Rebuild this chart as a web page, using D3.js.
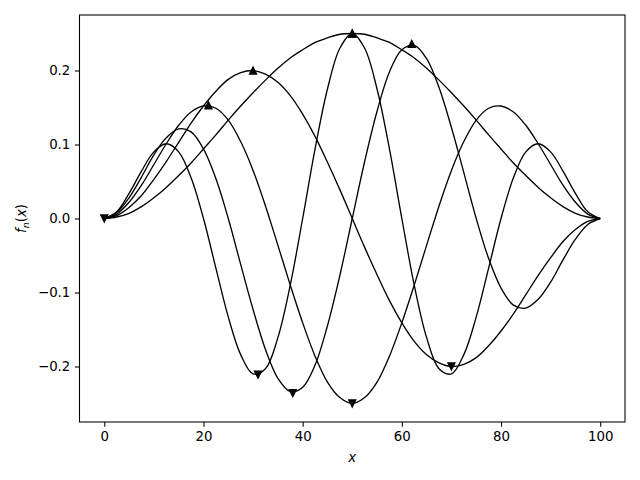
<!DOCTYPE html>
<html><head><meta charset="utf-8">
<script src="https://cdn.jsdelivr.net/npm/d3@7"></script>
<style>body{margin:0;background:#fff}svg{display:block}text{font-family:"DejaVu Sans",sans-serif}</style>
</head><body><svg id="c" width="640" height="480"></svg>
<script>
// x samples (0..100 step 2.5)
const xs = d3.range(0, 100.001, 2.5);
// series values
const f1Half = [0,.002,.007,.016,.028,.042,.058,.075,.094,.113,.133,.152,.170,.187,.203,.217,.228,.238,.244,.249,.250];
const f2 = [0,.004,.015,.031,.053,.077,.103,.129,.152,.172,.188,.197,.200,.195,.184,.166,.141,.111,.076,.039,0,
  -.039,-.076,-.111,-.141,-.166,-.184,-.195,-.200,-.197,-.188,-.172,-.152,-.129,-.103,-.077,-.053,-.031,-.015,-.004,0];
const f3Half = [0,.006,.022,.045,.073,.101,.126,.144,.152,.149,.133,.104,.065,.017,-.036,-.090,-.141,-.186,-.221,-.242,-.250];
const f4 = [0,.008,.028,.056,.086,.109,.121,.117,.094,.054,0,-.062,-.123,-.177,-.216,-.234,-.228,-.198,-.145,-.077,0,
  .077,.145,.198,.228,.234,.216,.177,.123,.062,0,-.054,-.094,-.117,-.121,-.109,-.086,-.056,-.028,-.008,0];
const f5Half = [0,.009,.034,.064,.090,.101,.090,.055,0,-.067,-.133,-.184,-.210,-.203,-.161,-.090,0,.094,.175,.230,.250];
const mirror = h => h.concat(h.slice(0, -1).reverse());
const seriesValues = [mirror(f1Half), f2, mirror(f3Half), f4, mirror(f5Half)];
// markers at maxima (up) and minima (down)
const maxX = [50, 30, 21, 62, 50], maxY = [.25, .2, .153, .236, .25];
const minX = [0, 70, 50, 38, 31], minY = [0, -.2, -.25, -.236, -.211];
const xTicks = [0, 20, 40, 60, 80, 100];
const yTicks = [-0.2, -0.1, 0.0, 0.1, 0.2];

const L = 79.5, R = 625, T = 15, B = 422;
const svg = d3.select("#c");
const x = d3.scaleLinear().domain([-5, 105]).range([L, R]);
const y = d3.scaleLinear().domain([-0.275, 0.275]).range([B, T]);

const g = svg.append("g");
svg.append("clipPath").attr("id", "cp").append("rect")
  .attr("x", L).attr("y", T).attr("width", R - L).attr("height", B - T);
const line = d3.line().x((d, i) => x(xs[i])).y(d => y(d)).curve(d3.curveCatmullRom.alpha(0.5));
seriesValues.forEach(v => {
  g.append("path").attr("d", line(v)).attr("fill", "none").attr("stroke", "#000")
    .attr("stroke-width", 1.33).attr("clip-path", "url(#cp)");
});
maxX.forEach((mx, i) => {
  g.append("path").attr("d", "M0,-3.6L3.6,3.6L-3.6,3.6Z")
    .attr("transform", `translate(${x(mx)},${y(maxY[i])})`).attr("fill", "#000")
    .attr("stroke", "#000").attr("stroke-width", 1.2).attr("stroke-linejoin", "miter");
});
minX.forEach((mx, i) => {
  g.append("path").attr("d", "M0,3.6L3.6,-3.6L-3.6,-3.6Z")
    .attr("transform", `translate(${x(mx)},${y(minY[i])})`).attr("fill", "#000")
    .attr("stroke", "#000").attr("stroke-width", 1.2).attr("stroke-linejoin", "miter");
});

const xa = svg.append("g").attr("transform", `translate(0,${B})`)
  .call(d3.axisBottom(x).tickValues(xTicks).tickSize(4.67).tickPadding(4.5).tickFormat(d3.format("d")));
const ya = svg.append("g").attr("transform", `translate(${L},0)`)
  .call(d3.axisLeft(y).tickValues(yTicks).tickSize(4.67).tickPadding(4.5)
    .tickFormat(d => (d < 0 ? "\u2212" : "") + Math.abs(d).toFixed(1)));
[xa, ya].forEach(a => {
  a.select(".domain").remove();
  a.selectAll("line").attr("stroke", "#000").attr("stroke-width", 1.07);
  a.selectAll("text").attr("fill", "#000").style("font-size", "13.33px").style("font-family", "DejaVu Sans");
});
svg.append("rect").attr("x", L).attr("y", T).attr("width", R - L).attr("height", B - T)
  .attr("fill", "none").attr("stroke", "#000").attr("stroke-width", 1.07);

svg.append("text").attr("x", (L + R) / 2).attr("y", 462).attr("text-anchor", "middle")
  .style("font-size", "13.33px").style("font-style", "italic").style("font-family", "DejaVu Sans").text("x");
const yl = svg.append("text").attr("transform", `translate(26,${(T + B) / 2}) rotate(-90)`)
  .attr("text-anchor", "middle").style("font-size", "13.33px").style("font-family", "DejaVu Sans");
yl.append("tspan").style("font-style", "italic").text("f");
yl.append("tspan").style("font-style", "italic").style("font-size", "9.5px").attr("dy", 3).text("n");
yl.append("tspan").attr("dy", -3).text("(");
yl.append("tspan").style("font-style", "italic").text("x");
yl.append("tspan").text(")");
</script></body></html>
